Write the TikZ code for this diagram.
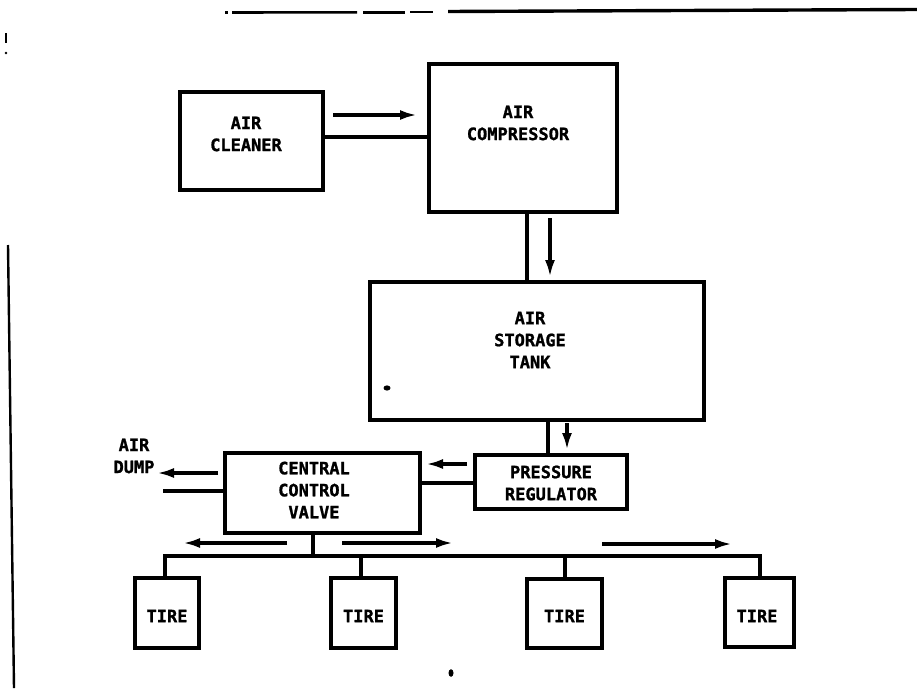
\documentclass[tikz,border=0pt]{standalone}
\usepackage{fontspec}
\newfontfamily\diagfont{DejaVu Sans Mono}[BoldFeatures={FakeBold=1.2}]
\usetikzlibrary{arrows.meta,calc}
\tikzset{
  box/.style={draw, line width=3.8pt, inner sep=0pt, outer sep=0pt},
  lbl/.style={font=\diagfont\bfseries\fontsize{17}{22}\selectfont, align=center, inner sep=0pt},
  pipe/.style={line width=3.3pt},
  flow/.style={line width=3.2pt, -{Latex[length=17pt,width=10pt]}},
  edge/.style={line width=2.6pt}
}
\begin{document}
\begin{tikzpicture}[x=1pt,y=-1pt]
\useasboundingbox (0,0) rectangle (917,688);
\fill[white] (0,0) rectangle (917,688);

% page edge marks
\draw[edge] (225,12.5) -- (228,12.5);
\draw[edge] (232,12.5) -- (357,12.3);
\draw[edge] (363,12.2) -- (405,12.2);
\draw[edge, line width=1.8pt] (410,12.2) -- (433,12.2);
\draw[edge, line width=3.4pt] (448,11.5) -- (917,9.5);
\draw[line width=1.4pt] (6,33) -- (6,43);
\fill (6,53) circle (1.3pt);
\draw[line width=2.4pt] (8,245) -- (14,688);

% boxes
\node[box, minimum width=143pt, minimum height=98pt] (cleaner) at (251.5,141) {};
\node[lbl] (cleanerT) at (246,134) {AIR\\CLEANER};
\node[box, minimum width=188pt, minimum height=148pt] (comp) at (523,138) {};
\node[lbl] (compT) at (518,123) {AIR\\COMPRESSOR};
\node[box, minimum width=334pt, minimum height=138pt] (tank) at (537,351) {};
\node[lbl] (tankT) at (530,340) {AIR\\STORAGE\\TANK};
\node[box, minimum width=152pt, minimum height=54pt] (reg) at (551,482) {};
\node[lbl] (regT) at (551,483) {PRESSURE\\REGULATOR};
\node[box, minimum width=195pt, minimum height=80pt] (ccv) at (322.5,493) {};
\node[lbl] (ccvT) at (314,490) {CENTRAL\\CONTROL\\VALVE};
\node[lbl] (dump) at (134,456) {AIR\\DUMP};
\node[box, minimum width=64pt, minimum height=70pt] (t1) at (167,613) {};
\node[box, minimum width=65pt, minimum height=70pt] (t2) at (363.5,613) {};
\node[box, minimum width=75pt, minimum height=69pt] (t3) at (564.5,613.5) {};
\node[box, minimum width=69pt, minimum height=69pt] (t4) at (759.5,612.5) {};
\node[lbl] (t1T) at (167,616) {TIRE};
\node[lbl] (t2T) at (363.5,616) {TIRE};
\node[lbl] (t3T) at (564.5,616) {TIRE};
\node[lbl] (t4T) at (757,616) {TIRE};

% specks
\fill (387,388) ellipse (3.5pt and 2.6pt);
\fill (451,673) ellipse (2.5pt and 3.8pt);

% pipes
\draw[pipe] (cleaner.east |- 0,137) -- (comp.west |- 0,137);
\draw[pipe] (comp.south -| 527,0) -- (tank.north -| 527,0);
\draw[pipe] (tank.south -| 548,0) -- (reg.north -| 548,0);
\draw[pipe] (reg.west |- 0,483) -- (ccv.east |- 0,483);
\coordinate (dumpend) at (163,491);
\draw[pipe] (ccv.west |- dumpend) -- (dumpend);
\coordinate (busL) at (165,556);
\coordinate (busR) at (760,556);
\coordinate (busC) at (313,556);
\draw[pipe] (ccv.south -| busC) -- (busC);
\draw[pipe] (t1.north -| busL) -- (busL) -- (busR) -- (t4.north -| busR);
\draw[pipe] (361,556) -- (t2.north -| 361,0);
\draw[pipe] (565,556) -- (t3.north -| 565,0);

% flow arrows
\coordinate (a1s) at (333,115); \coordinate (a1e) at (417,115);
\coordinate (a2s) at (550,218); \coordinate (a2e) at (550,277);
\coordinate (a3s) at (567,423); \coordinate (a3e) at (567,450);
\coordinate (a4s) at (467,464); \coordinate (a4e) at (426,464);
\coordinate (a5s) at (218,473); \coordinate (a5e) at (157,473);
\coordinate (a6s) at (287,543); \coordinate (a6e) at (183,543);
\coordinate (a7s) at (342,543); \coordinate (a7e) at (453,543);
\coordinate (a8s) at (602,544); \coordinate (a8e) at (732,544);
\draw[flow] (a1s) -- (a1e);
\draw[flow] (a2s) -- (a2e);
\draw[flow] (a3s) -- (a3e);
\draw[flow] (a4s) -- (a4e);
\draw[flow] (a5s) -- (a5e);
\draw[flow] (a6s) -- (a6e);
\draw[flow] (a7s) -- (a7e);
\draw[flow] (a8s) -- (a8e);
\end{tikzpicture}
\end{document}
